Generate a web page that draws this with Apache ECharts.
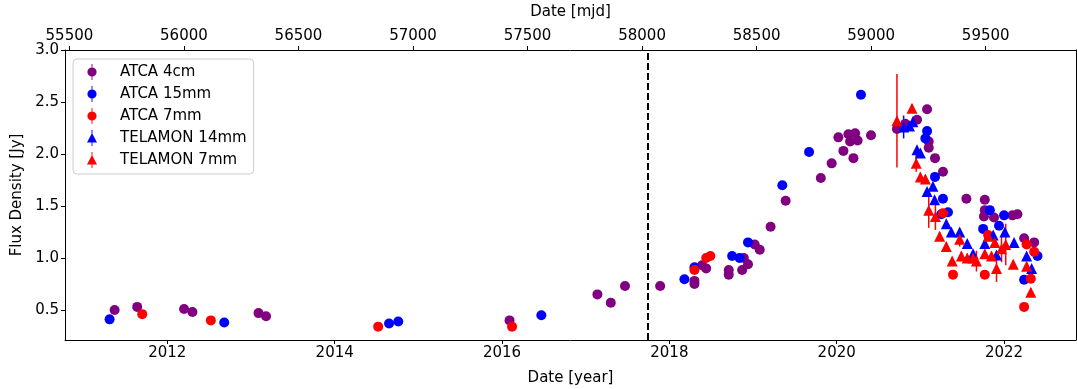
<!DOCTYPE html>
<html>
<head>
<meta charset="utf-8">
<script src="https://cdn.jsdelivr.net/npm/echarts@6/dist/echarts.min.js"></script>
<style>
  html, body { margin: 0; padding: 0; background: #fff; }
  #chart { width: 1077px; height: 389px; }
</style>
</head>
<body>
<div id="chart"></div>
<script>
// ATCA 4cm
const yr4cm = [2011.37, 2011.64, 2012.20, 2012.30, 2013.09, 2013.18, 2016.09, 2017.14, 2017.30, 2017.47,
  2017.89, 2018.30, 2018.30, 2018.39, 2018.44, 2018.71, 2018.71, 2018.87, 2018.89, 2018.94,
  2019.02, 2019.08, 2019.21, 2019.39, 2019.81, 2019.94, 2020.02, 2020.08, 2020.14, 2020.16,
  2020.22, 2020.20, 2020.25, 2020.41, 2020.72, 2020.82, 2020.96, 2021.08, 2021.10, 2021.10,
  2021.175, 2021.27, 2021.55, 2021.77, 2021.77, 2021.76, 2021.88, 2022.10, 2022.16, 2022.24, 2022.36];
const flux4cm = [0.50, 0.53, 0.51, 0.48, 0.47, 0.44, 0.40, 0.65, 0.57, 0.73,
  0.73, 0.78, 0.75, 0.93, 0.90, 0.885, 0.84, 0.885, 1.00, 0.94,
  1.13, 1.08, 1.30, 1.55, 1.77, 1.91, 2.16, 2.03, 2.19, 2.12,
  2.20, 1.96, 2.13, 2.18, 2.24, 2.29, 2.33, 2.43, 2.12, 2.06,
  1.96, 1.83, 1.57, 1.56, 1.46, 1.40, 1.39, 1.41, 1.42, 1.19, 1.15];

// ATCA 15mm
const yr15mm = [2011.31, 2012.68, 2014.65, 2014.76, 2016.47, 2018.18, 2018.30, 2018.75, 2018.84, 2018.94,
  2019.35, 2019.67, 2020.29, 2021.08, 2021.06, 2021.175, 2021.27, 2021.25, 2021.33, 2021.83,
  2021.75, 2021.94, 2022.00, 2022.24, 2022.40];
const flux15mm = [0.41, 0.38, 0.37, 0.39, 0.45, 0.795, 0.91, 1.02, 1.00, 1.15,
  1.70, 2.02, 2.57, 2.22, 2.15, 1.78, 1.57, 1.42, 1.44, 1.46,
  1.28, 1.31, 1.41, 0.79, 1.02];

// ATCA 7mm
const yr7mm = [2011.70, 2012.52, 2014.52, 2016.12, 2018.30, 2018.44, 2018.49, 2021.27, 2021.39, 2021.77,
  2021.81, 2022.27, 2022.32, 2022.36, 2022.24];
const flux7mm = [0.46, 0.40, 0.34, 0.34, 0.885, 1.00, 1.02, 1.43, 0.84, 0.84,
  1.22, 1.13, 0.80, 1.06, 0.53];

// TELAMON 14mm
const yrT14 = [2020.80, 2020.87, 2020.91, 2020.96, 2021.00, 2021.08, 2021.15, 2021.17, 2021.31, 2021.37,
  2021.47, 2021.56, 2021.63, 2021.77, 2021.87, 2021.91, 2022.01, 2022.12, 2022.27, 2022.33];
const fluxT14 = [2.26, 2.27, 2.31, 2.04, 2.01, 1.64, 1.69, 1.56, 1.33, 1.25,
  1.25, 1.14, 1.04, 1.14, 1.22, 1.03, 1.25, 1.15, 1.02, 0.90];
const errT14 = [0.11, 0.03, 0.03, 0.03, 0.03, 0.03, 0.03, 0.03, 0.03, 0.03,
  0.03, 0.03, 0.03, 0.03, 0.03, 0.03, 0.03, 0.03, 0.03, 0.03];
const xerrT14 = [0.07, 0, 0, 0, 0, 0, 0, 0, 0, 0, 0, 0, 0, 0, 0, 0, 0, 0, 0, 0];

// TELAMON 7mm
const yrT7 = [2020.72, 2020.90, 2020.95, 2021.00, 2021.06, 2021.10, 2021.18, 2021.23, 2021.31, 2021.38,
  2021.47, 2021.49, 2021.56, 2021.63, 2021.67, 2021.77, 2021.81, 2021.85, 2021.89, 2021.91,
  2021.97, 2022.02, 2022.11, 2022.27, 2022.32];
const fluxT7 = [2.32, 2.44, 1.91, 1.78, 1.76, 1.46, 1.40, 1.21, 1.11, 0.97,
  1.18, 1.02, 1.00, 1.00, 0.97, 1.04, 1.21, 1.02, 1.15, 0.90,
  1.09, 1.13, 0.94, 0.92, 0.67];
const errT7 = [0.45, 0.04, 0.08, 0.04, 0.04, 0.17, 0.13, 0.04, 0.04, 0.04,
  0.07, 0.04, 0.04, 0.04, 0.10, 0.04, 0.05, 0.04, 0.04, 0.13,
  0.13, 0.20, 0.04, 0.04, 0.04];

const yearTicks = [2012, 2014, 2016, 2018, 2020, 2022];
const mjdTicks = [55500, 56000, 56500, 57000, 57500, 58000, 58500, 59000, 59500];
const fluxTicks = [0.5, 1.0, 1.5, 2.0, 2.5, 3.0];
const dashedYear = 2017.74;

const yearMin = 2010.777, yearMax = 2022.86;
const toMjd = y => (y - 2000) * 365.25 + 51544.5;

const PURPLE = '#800080', BLUE = '#0000ff', RED = '#ff0000';
const font = 'DejaVu Sans';
const fs = 15;

// legend icons: marker with a vertical error bar through it
const circleIcon = 'path://M4.55,0H5.45V16H4.55Z M5,3.4A4.6,4.6 0 1,1 4.99,3.4Z';
const triIcon = 'path://M4.55,0H5.45V16H4.55Z M5,3L10,12.4H0Z';

function errSeries(xs, ys, yerr, xerr, color) {
  return {
    type: 'custom',
    silent: true,
    xAxisIndex: 0,
    yAxisIndex: 0,
    encode: { x: 0, y: 1 },
    data: xs.map((x, i) => [x, ys[i], yerr[i], xerr ? xerr[i] : 0]),
    renderItem(params, api) {
      const x = api.value(0), y = api.value(1), e = api.value(2), ex = api.value(3);
      const a = api.coord([x, y - e]), b = api.coord([x, y + e]);
      const children = [{
        type: 'line',
        shape: { x1: a[0], y1: a[1], x2: b[0], y2: b[1] },
        style: { stroke: color, lineWidth: 1.5 }
      }];
      if (ex > 0) {
        const c = api.coord([x - ex, y]), d = api.coord([x + ex, y]);
        children.push({
          type: 'line',
          shape: { x1: c[0], y1: c[1], x2: d[0], y2: d[1] },
          style: { stroke: color, lineWidth: 1.5 }
        });
      }
      return { type: 'group', children };
    }
  };
}

function scatter(name, xs, ys, color, symbol, size) {
  return {
    name,
    type: 'scatter',
    xAxisIndex: 0,
    yAxisIndex: 0,
    symbol,
    symbolSize: size,
    itemStyle: { color, opacity: 1 },
    data: xs.map((x, i) => [x, ys[i]])
  };
}

const chart = echarts.init(document.getElementById('chart'));

const s4cm = scatter('ATCA 4cm', yr4cm, flux4cm, PURPLE, 'circle', 10);
s4cm.markLine = {
  silent: true,
  symbol: 'none',
  label: { show: false },
  lineStyle: { color: '#000', type: [7, 3], width: 2 },
  data: [{ xAxis: dashedYear }]
};

chart.setOption({
  animation: false,
  textStyle: { fontFamily: font, color: '#000' },
  grid: { left: 65, right: 1, top: 50, bottom: 49, outerBoundsMode: 'none' },
  legend: {
    orient: 'vertical',
    left: 73,
    top: 59,
    padding: [5, 7, 6, 14],
    itemGap: 6,
    itemWidth: 14,
    itemHeight: 16,
    borderColor: '#cccccc',
    borderWidth: 1,
    borderRadius: 4,
    backgroundColor: 'rgba(255,255,255,0.8)',
    textStyle: { fontFamily: font, fontSize: fs, color: '#000', padding: [0, 0, 0, 16] },
    data: [
      { name: 'ATCA 4cm', icon: circleIcon },
      { name: 'ATCA 15mm', icon: circleIcon },
      { name: 'ATCA 7mm', icon: circleIcon },
      { name: 'TELAMON 14mm', icon: triIcon },
      { name: 'TELAMON 7mm', icon: triIcon }
    ]
  },
  xAxis: [
    {
      type: 'value',
      position: 'bottom',
      min: yearMin,
      max: yearMax,
      name: 'Date [year]',
      nameLocation: 'middle',
      nameGap: 31,
      nameTextStyle: { fontFamily: font, fontSize: fs, color: '#000' },
      axisLine: { show: true, onZero: false, lineStyle: { color: '#000', width: 1 } },
      axisTick: { show: true, length: 4, customValues: yearTicks, lineStyle: { color: '#000' } },
      axisLabel: { customValues: yearTicks, fontSize: fs, color: '#000', margin: 6, formatter: v => String(v) },
      splitLine: { show: false }
    },
    {
      type: 'value',
      position: 'top',
      min: toMjd(yearMin),
      max: toMjd(yearMax),
      name: 'Date [mjd]',
      nameLocation: 'middle',
      nameGap: 30,
      nameTextStyle: { fontFamily: font, fontSize: fs, color: '#000' },
      axisLine: { show: true, onZero: false, lineStyle: { color: '#000', width: 1 } },
      axisTick: { show: true, length: 4, customValues: mjdTicks, lineStyle: { color: '#000' } },
      axisLabel: { customValues: mjdTicks, fontSize: fs, color: '#000', margin: 6, formatter: v => String(v) },
      splitLine: { show: false }
    }
  ],
  yAxis: [
    {
      type: 'value',
      min: 0.2115,
      max: 3.0,
      name: 'Flux Density [Jy]',
      nameLocation: 'middle',
      nameGap: 40,
      nameTextStyle: { fontFamily: font, fontSize: fs, color: '#000' },
      axisLine: { show: true, onZero: false, lineStyle: { color: '#000', width: 1 } },
      axisTick: { show: true, length: 4, customValues: fluxTicks, lineStyle: { color: '#000' } },
      axisLabel: { customValues: fluxTicks, fontSize: fs, color: '#000', margin: 6, formatter: v => v.toFixed(1) },
      splitLine: { show: false }
    },
    {
      type: 'value',
      position: 'right',
      min: 0.2115,
      max: 3.0,
      axisLine: { show: true, onZero: false, lineStyle: { color: '#000', width: 1 } },
      axisTick: { show: false },
      axisLabel: { show: false },
      splitLine: { show: false }
    }
  ],
  series: [
    s4cm,
    scatter('ATCA 15mm', yr15mm, flux15mm, BLUE, 'circle', 10),
    scatter('ATCA 7mm', yr7mm, flux7mm, RED, 'circle', 10),
    errSeries(yrT14, fluxT14, errT14, xerrT14, BLUE),
    scatter('TELAMON 14mm', yrT14, fluxT14, BLUE, 'triangle', 11),
    errSeries(yrT7, fluxT7, errT7, null, RED),
    scatter('TELAMON 7mm', yrT7, fluxT7, RED, 'triangle', 11)
  ]
});
</script>
</body>
</html>
